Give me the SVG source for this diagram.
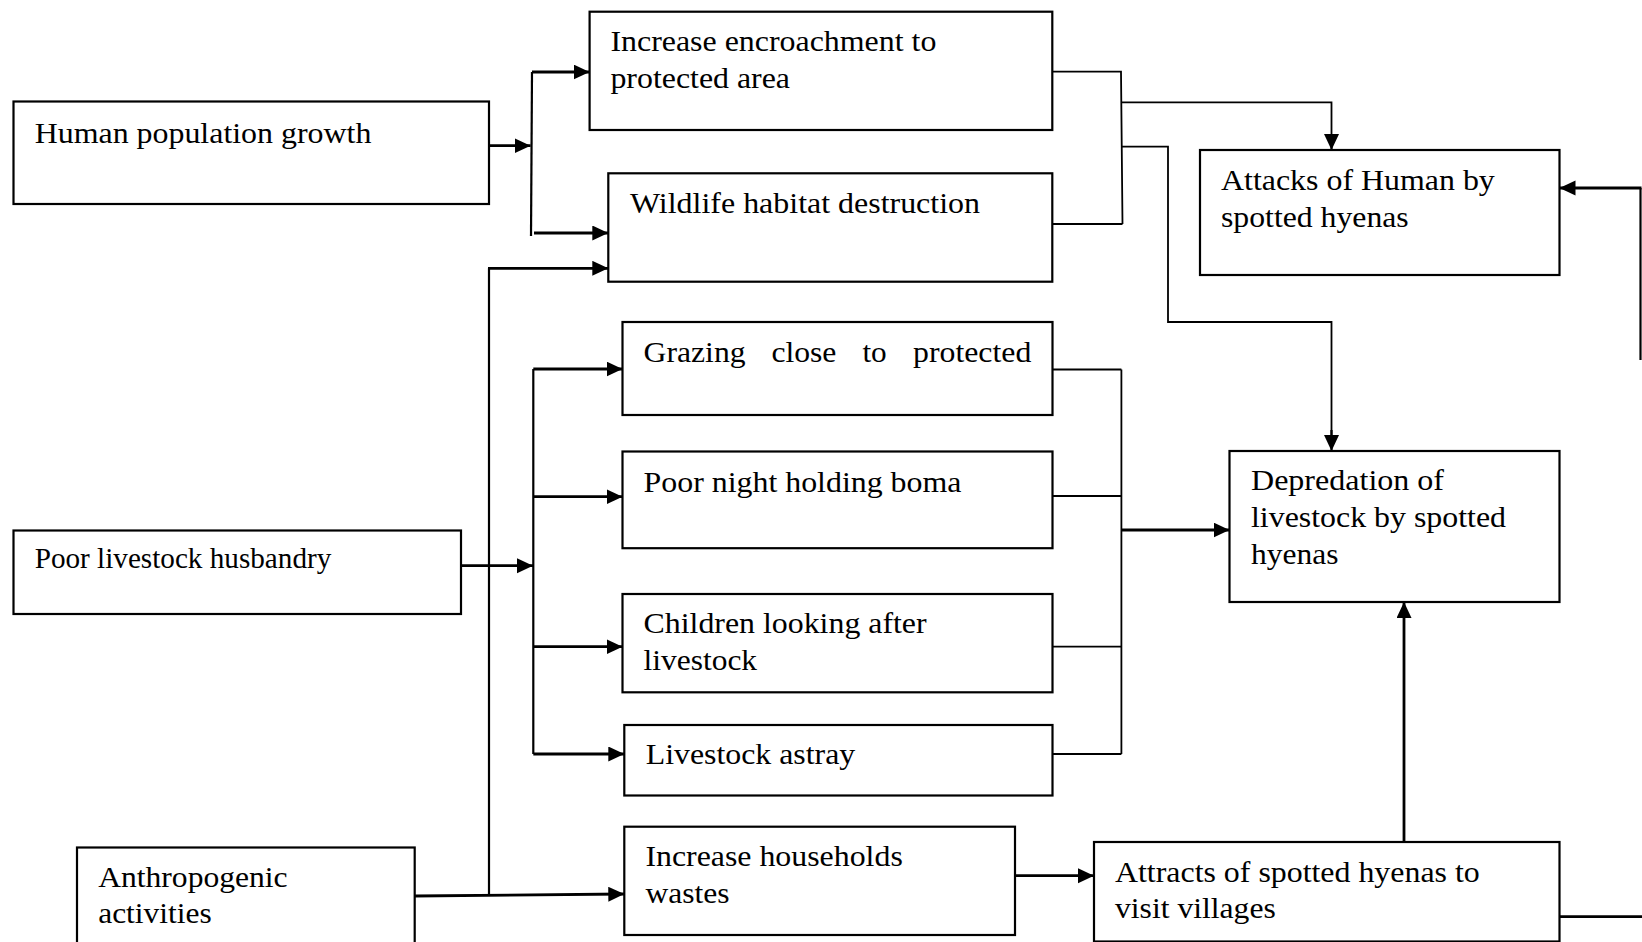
<svg xmlns="http://www.w3.org/2000/svg" width="1642" height="942" viewBox="0 0 1642 942">
<defs>
<marker id="arr" markerUnits="userSpaceOnUse" markerWidth="17" markerHeight="16" refX="16" refY="7.5" orient="auto">
<path d="M0,0 L16,7.5 L0,15 z" fill="#000"/>
</marker>
<style>
.box{fill:#fff;stroke:#000;stroke-width:2.2}
.c{fill:none;stroke:#000;stroke-width:2.8}
.v{fill:none;stroke:#000;stroke-width:2.2}
.b{fill:none;stroke:#000;stroke-width:1.8}
.a{marker-end:url(#arr)}
</style>
</defs>
<rect width="1642" height="942" fill="#fff"/>
<g id="connectors">
<path class="c a" d="M489,145.7 H530.6"/>
<path class="v" d="M532,72 L531,236"/>
<path class="c a" d="M532,72 H589.6"/>
<path class="c a" d="M534,233 H608.3"/>
<path class="v" d="M489,895.5 V268.3"/>
<path class="c a" d="M488,268.3 H608.3"/>
<path class="c a" d="M414.7,896 L624.3,894"/>
<path class="c a" d="M461,565.7 H533"/>
<path class="v" d="M533.3,369 V754"/>
<path class="c a" d="M533.3,369 H622.5"/>
<path class="c a" d="M533.3,496.7 H622.5"/>
<path class="c a" d="M533.3,646.7 H622.5"/>
<path class="c a" d="M533.3,754 H624.3"/>
<path class="b" d="M1052.5,369.5 H1121.4 M1052.5,496 H1121.4 M1052.5,646.7 H1121.4 M1052.5,754 H1121.4 M1121.4,369.5 V754"/>
<path class="c a" d="M1121.4,530 H1229.5"/>
<path class="b" d="M1052.5,71.7 H1121 L1122.5,224 M1052.5,224 H1122.5"/>
<path class="b" d="M1122,102.3 H1331.5 V136"/>
<path class="v a" d="M1331.5,134 V150"/>
<path class="b" d="M1122,146.7 H1168 V322 H1331.5 V437"/>
<path class="v a" d="M1331.5,430 V451"/>
<path class="v" d="M1640.5,360 V188"/>
<path class="c a" d="M1641.5,188 H1559.5"/>
<path class="c" d="M1559.5,916.7 H1642"/>
<path class="c a" d="M1015,875.7 H1094"/>
<path class="c a" d="M1404,842 V602"/>
</g>
<g font-family="'Liberation Serif', 'Times New Roman', Times, serif" font-size="30" fill="#000" lengthAdjust="spacingAndGlyphs">
<g id="human-population-growth">
<rect class="box" x="13.5" y="101.5" width="475.5" height="102.5"/>
<text x="34.7" y="142.7" textLength="336.7" lengthAdjust="spacingAndGlyphs">Human population growth</text>
</g>
<g id="increase-encroachment">
<rect class="box" x="589.6" y="11.7" width="462.7" height="118.3"/>
<text x="610.4" y="50.7" textLength="326" lengthAdjust="spacingAndGlyphs">Increase encroachment to</text>
<text x="610.4" y="88.3" textLength="179.6" lengthAdjust="spacingAndGlyphs">protected area</text>
</g>
<g id="wildlife-habitat-destruction">
<rect class="box" x="608.3" y="173.3" width="444" height="108.4"/>
<text x="630" y="212.7" textLength="350" lengthAdjust="spacingAndGlyphs">Wildlife habitat destruction</text>
</g>
<g id="attacks-of-human">
<rect class="box" x="1200" y="150" width="359.5" height="125"/>
<text x="1221" y="189.7" textLength="273.8" lengthAdjust="spacingAndGlyphs">Attacks of Human by</text>
<text x="1221" y="227.3" textLength="187.7" lengthAdjust="spacingAndGlyphs">spotted hyenas</text>
</g>
<g id="grazing-close">
<rect class="box" x="622.5" y="322" width="430" height="93"/>
<text x="643.6" y="361.7" textLength="102" lengthAdjust="spacingAndGlyphs">Grazing</text>
<text x="771.4" y="361.7" textLength="65" lengthAdjust="spacingAndGlyphs">close</text>
<text x="862.4" y="361.7" textLength="24.3" lengthAdjust="spacingAndGlyphs">to</text>
<text x="913.1" y="361.7" textLength="118.2" lengthAdjust="spacingAndGlyphs">protected</text>
</g>
<g id="poor-night-boma">
<rect class="box" x="622.5" y="451.5" width="430" height="96.7"/>
<text x="643.6" y="491.7" textLength="317.8" lengthAdjust="spacingAndGlyphs">Poor night holding boma</text>
</g>
<g id="depredation">
<rect class="box" x="1229.5" y="451" width="330" height="151"/>
<text x="1251" y="490.3" textLength="193" lengthAdjust="spacingAndGlyphs">Depredation of</text>
<text x="1251" y="527" textLength="255" lengthAdjust="spacingAndGlyphs">livestock by spotted</text>
<text x="1251" y="563.5" textLength="87.5" lengthAdjust="spacingAndGlyphs">hyenas</text>
</g>
<g id="poor-livestock-husbandry">
<rect class="box" x="13.5" y="530.5" width="447.5" height="83.5"/>
<text x="34.7" y="568.3" textLength="296.6" lengthAdjust="spacingAndGlyphs">Poor livestock husbandry</text>
</g>
<g id="children-looking">
<rect class="box" x="622.5" y="594" width="430" height="98.3"/>
<text x="643.6" y="633.3" textLength="283" lengthAdjust="spacingAndGlyphs">Children looking after</text>
<text x="643.6" y="670" textLength="113.5" lengthAdjust="spacingAndGlyphs">livestock</text>
</g>
<g id="livestock-astray">
<rect class="box" x="624.3" y="725" width="428.2" height="70.5"/>
<text x="645.7" y="764.3" textLength="209.6" lengthAdjust="spacingAndGlyphs">Livestock astray</text>
</g>
<g id="anthropogenic-activities">
<rect class="box" x="77" y="847.5" width="337.7" height="110"/>
<text x="98.2" y="886.7" textLength="189.4" lengthAdjust="spacingAndGlyphs">Anthropogenic</text>
<text x="98.2" y="923" textLength="113.6" lengthAdjust="spacingAndGlyphs">activities</text>
</g>
<g id="increase-households-wastes">
<rect class="box" x="624.3" y="826.7" width="390.7" height="108.3"/>
<text x="645.4" y="866" textLength="257.4" lengthAdjust="spacingAndGlyphs">Increase households</text>
<text x="645.4" y="902.7" textLength="84.2" lengthAdjust="spacingAndGlyphs">wastes</text>
</g>
<g id="attracts-hyenas">
<rect class="box" x="1094" y="842" width="465.5" height="99.5"/>
<text x="1115" y="881.7" textLength="364.7" lengthAdjust="spacingAndGlyphs">Attracts of spotted hyenas to</text>
<text x="1115" y="918" textLength="160.8" lengthAdjust="spacingAndGlyphs">visit villages</text>
</g>
</g>
</svg>
